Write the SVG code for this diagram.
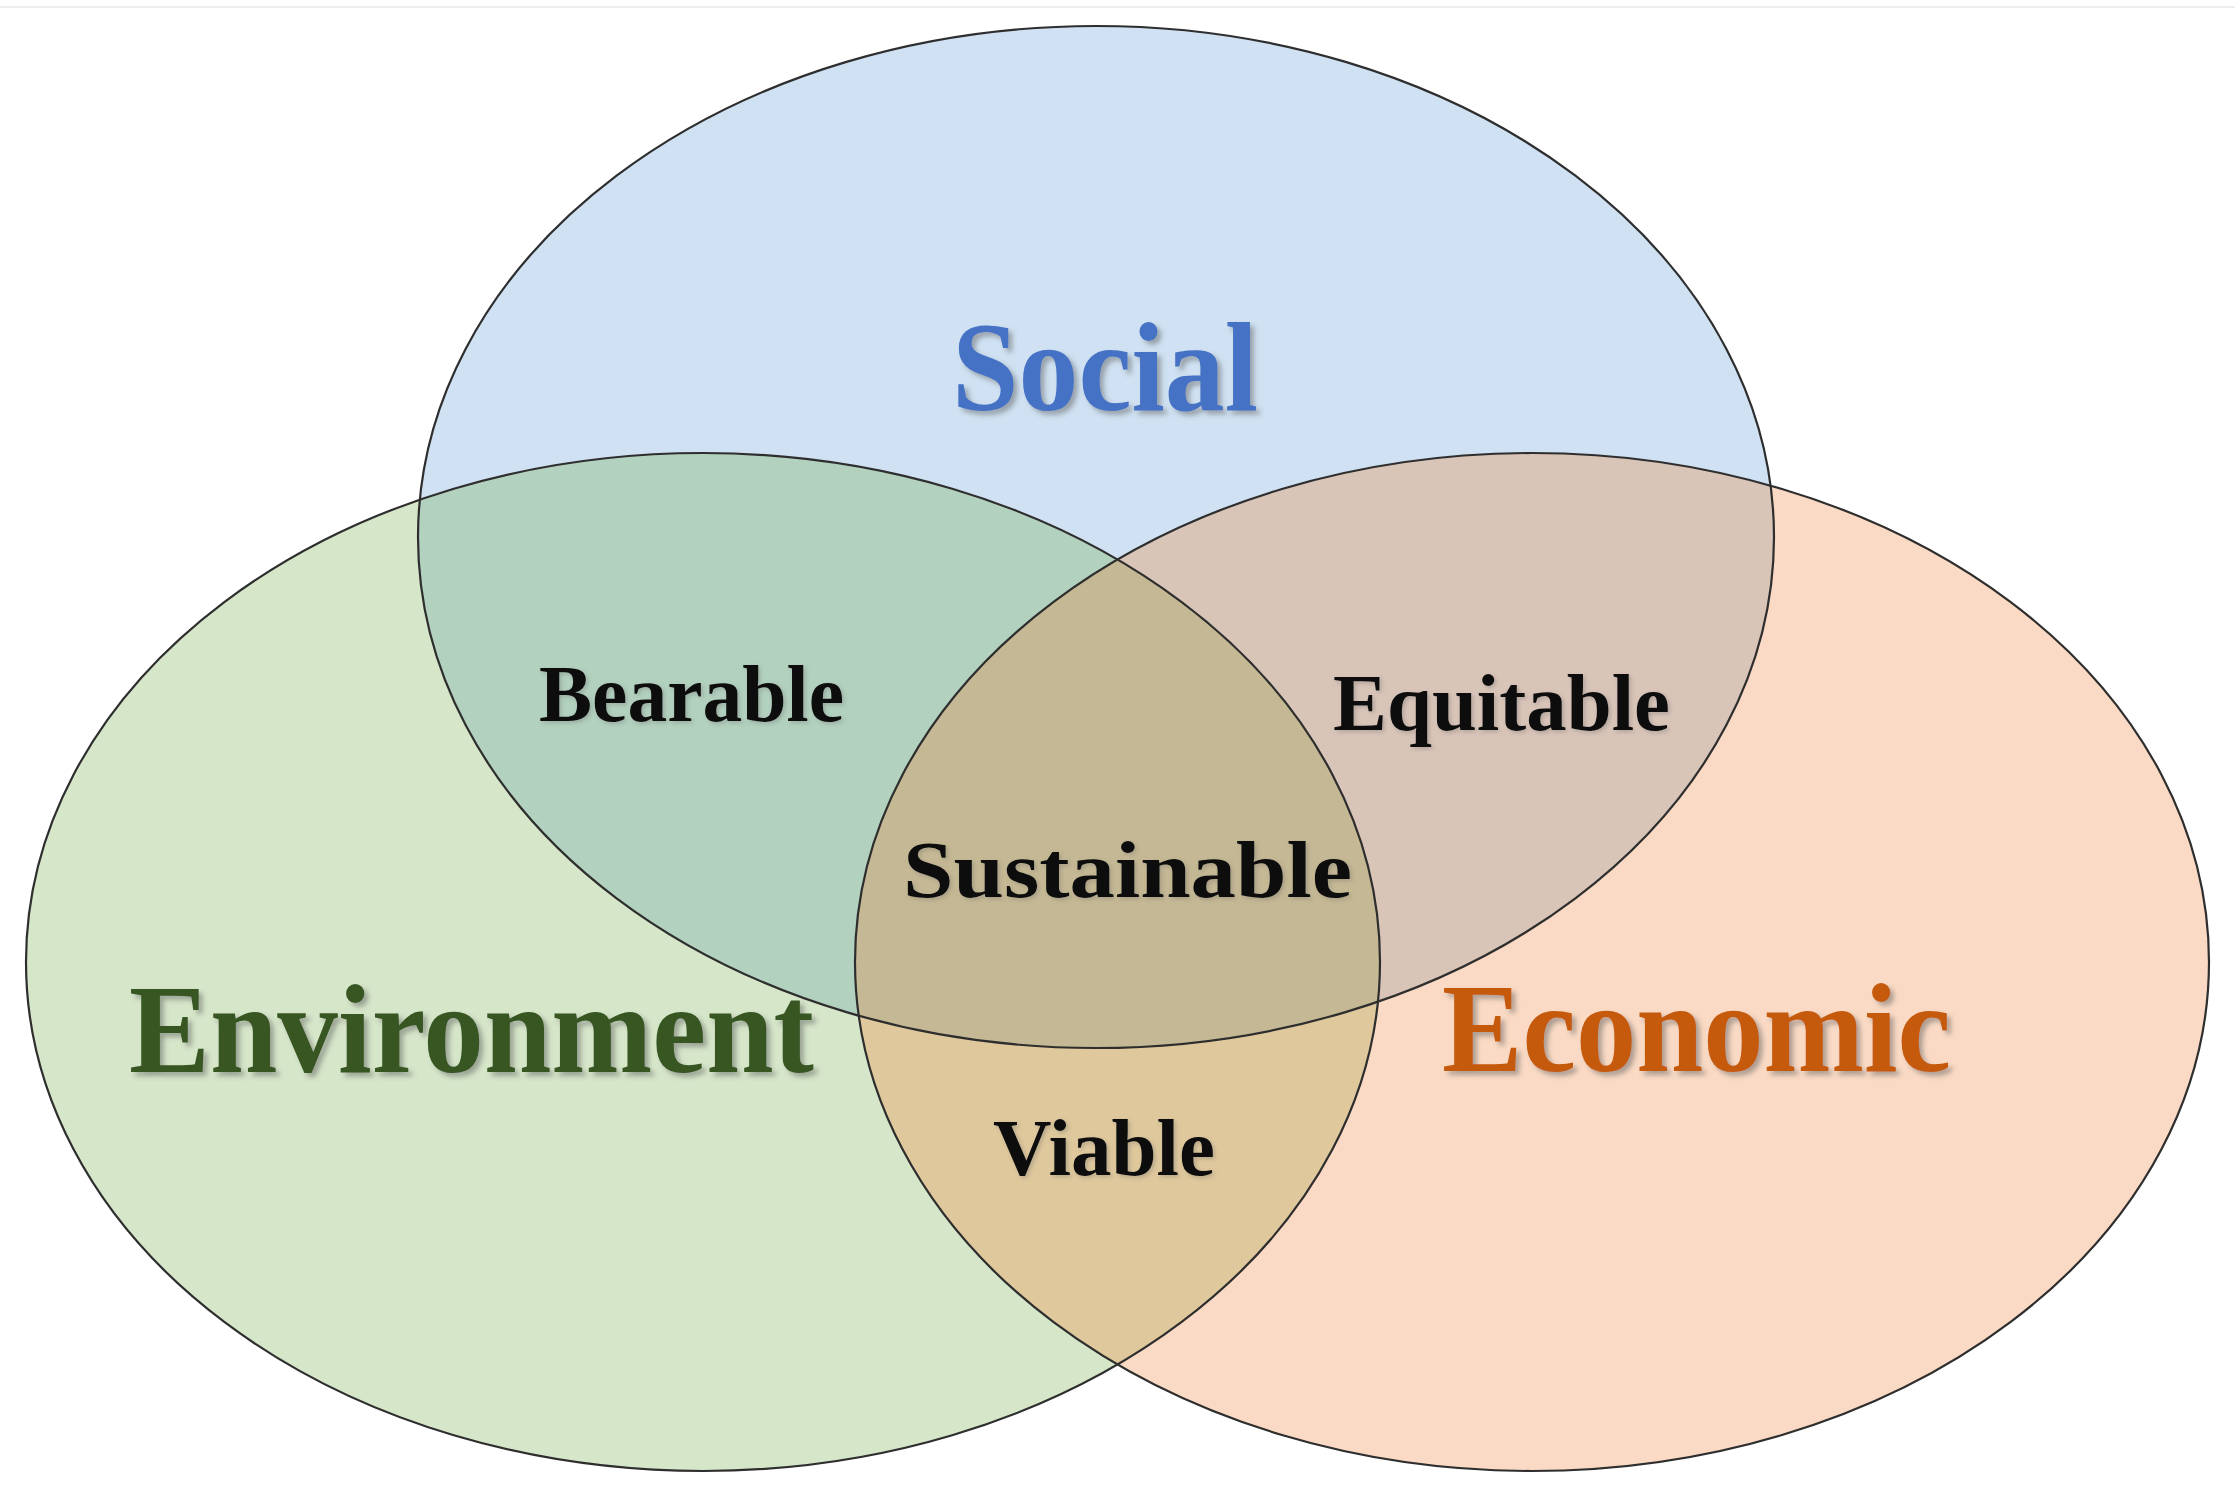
<svg xmlns="http://www.w3.org/2000/svg" width="2235" height="1498" viewBox="0 0 2235 1498">
  <style>
    .outline { fill: none; stroke: #2e2e2e; stroke-width: 2.2; }
    .big { font-family: "Liberation Serif", "Times New Roman", serif; font-weight: bold; font-size: 126px; }
    .mid { font-family: "Liberation Serif", "Times New Roman", serif; font-weight: bold; font-size: 80px; fill: #0a0a0a; }
  </style>
  <defs>
    <clipPath id="clipSocial"><ellipse cx="1096" cy="537" rx="678" ry="511"/></clipPath>
    <clipPath id="clipEnv"><ellipse cx="703" cy="962" rx="677" ry="509"/></clipPath>
    <filter id="shadow" x="-5%" y="-20%" width="112%" height="150%">
      <feDropShadow dx="4" dy="4" stdDeviation="2.5" flood-color="#555" flood-opacity="0.45"/>
    </filter>
    <filter id="softShadow" x="-5%" y="-20%" width="112%" height="150%">
      <feDropShadow dx="2" dy="2" stdDeviation="2" flood-color="#666" flood-opacity="0.35"/>
    </filter>
  </defs>

  <rect x="0" y="0" width="2235" height="1498" fill="#ffffff"/>
  <line x1="0" y1="7" x2="2235" y2="7" stroke="#eeeeee" stroke-width="2"/>

  <!-- fills -->
  <g id="fills">
    <ellipse cx="1096" cy="537" rx="678" ry="511" fill="#cfe1f2"/>
    <ellipse cx="703" cy="962" rx="677" ry="509" fill="#d6e6c9"/>
    <ellipse cx="1532" cy="962" rx="677" ry="509" fill="#fadac4"/>
    <g clip-path="url(#clipSocial)">
      <ellipse cx="703" cy="962" rx="677" ry="509" fill="#b3d1bf"/>
      <ellipse cx="1532" cy="962" rx="677" ry="509" fill="#d9c4b8"/>
    </g>
    <g clip-path="url(#clipEnv)">
      <ellipse cx="1532" cy="962" rx="677" ry="509" fill="#dfc89c"/>
    </g>
    <g clip-path="url(#clipSocial)">
      <g clip-path="url(#clipEnv)">
        <ellipse cx="1532" cy="962" rx="677" ry="509" fill="#c5b894"/>
      </g>
    </g>
  </g>

  <g id="connectors"></g>

  <g id="social">
    <ellipse class="outline" cx="1096" cy="537" rx="678" ry="511"/>
    <text class="big" x="952" y="410" fill="#4472c4" filter="url(#shadow)" textLength="306" lengthAdjust="spacingAndGlyphs">Social</text>
  </g>
  <g id="environment">
    <ellipse class="outline" cx="703" cy="962" rx="677" ry="509"/>
    <text class="big" x="129" y="1072" fill="#375623" filter="url(#shadow)" textLength="685" lengthAdjust="spacingAndGlyphs">Environment</text>
  </g>
  <g id="economic">
    <ellipse class="outline" cx="1532" cy="962" rx="677" ry="509"/>
    <text class="big" x="1442" y="1071" fill="#c55a11" filter="url(#shadow)" textLength="509" lengthAdjust="spacingAndGlyphs">Economic</text>
  </g>

  <g id="bearable">
    <text class="mid" x="539" y="721" filter="url(#softShadow)" textLength="305" lengthAdjust="spacingAndGlyphs">Bearable</text>
  </g>
  <g id="equitable">
    <text class="mid" x="1333" y="730" filter="url(#softShadow)" textLength="337" lengthAdjust="spacingAndGlyphs">Equitable</text>
  </g>
  <g id="viable">
    <text class="mid" x="993" y="1175" filter="url(#softShadow)" textLength="222" lengthAdjust="spacingAndGlyphs">Viable</text>
  </g>
  <g id="sustainable">
    <text class="mid" x="903" y="897" font-size="92" filter="url(#softShadow)" textLength="449" lengthAdjust="spacingAndGlyphs">Sustainable</text>
  </g>
</svg>
